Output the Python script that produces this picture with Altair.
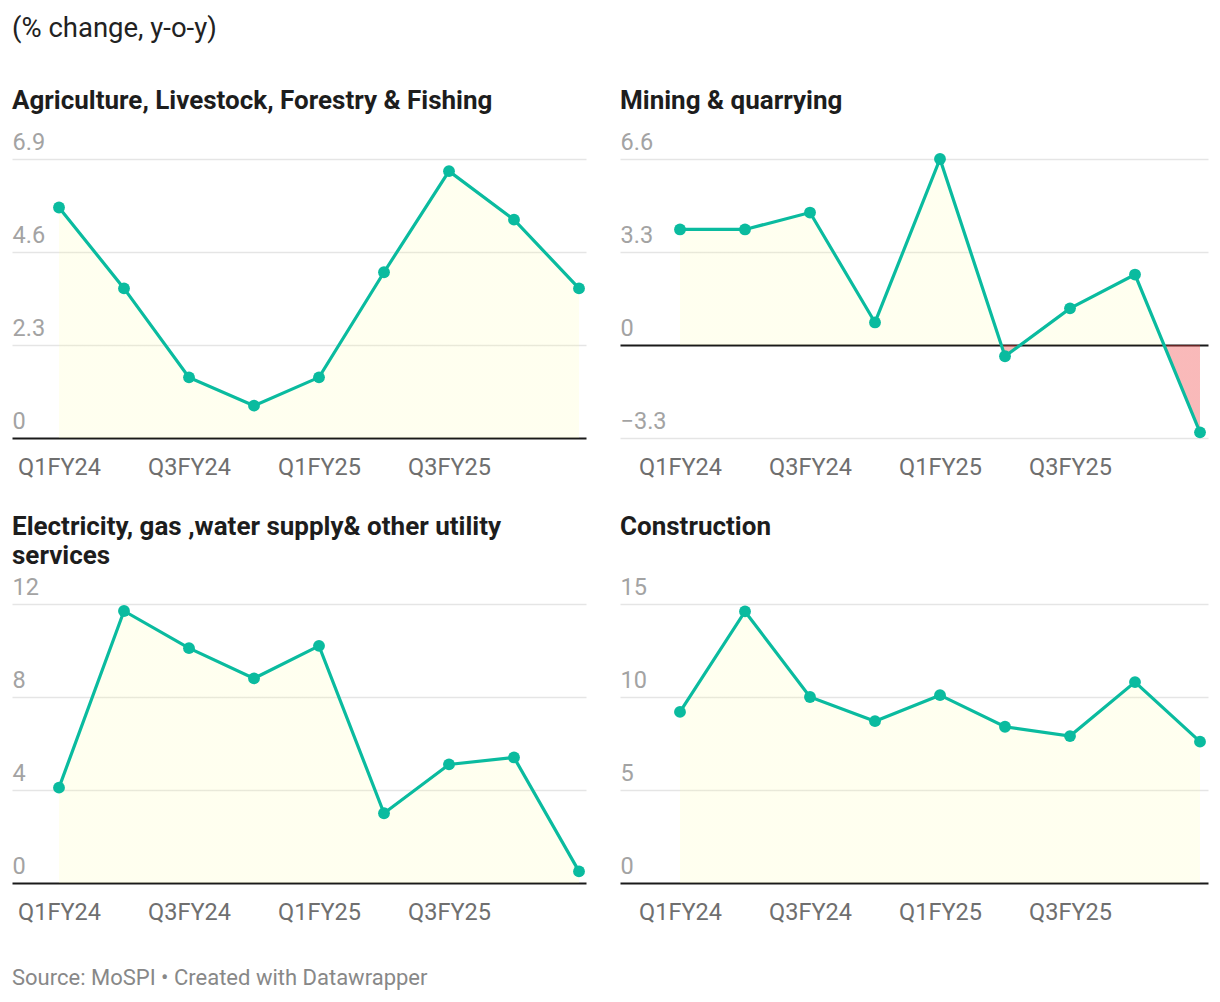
import altair as alt
import pandas as pd

quarters = ["Q1FY24", "Q2FY24", "Q3FY24", "Q4FY24", "Q1FY25",
            "Q2FY25", "Q3FY25", "Q4FY25", "Q1FY26"]
shown_quarters = [0, 2, 4, 6]

agriculture = [5.7, 3.7, 1.5, 0.8, 1.5, 4.1, 6.6, 5.4, 3.7]
mining = [4.1, 4.1, 4.7, 0.8, 6.6, -0.4, 1.3, 2.5, -3.1]
electricity = [4.1, 11.7, 10.1, 8.8, 10.2, 3.0, 5.1, 5.4, 0.5]
construction = [9.2, 14.6, 10.0, 8.7, 10.1, 8.4, 7.9, 10.8, 7.6]

agri_ticks = [0, 2.3, 4.6, 6.9]
mining_ticks = [-3.3, 0, 3.3, 6.6]
elec_ticks = [0, 4, 8, 12]
constr_ticks = [0, 5, 10, 15]

title_agri = "Agriculture, Livestock, Forestry & Fishing"
title_mining = "Mining & quarrying"
title_elec = ["Electricity, gas ,water supply& other utility", "services"]
title_constr = ["Construction", " "]

TEAL = "#0abb9f"
YELLOW = "rgba(255,255,150,0.15)"
RED = "rgba(238,56,56,0.35)"
FONT = "Roboto"

x_label_expr = "[" + ",".join("'%s'" % q for q in quarters) + "][datum.value]"
y_label_expr = "replace(toString(datum.value), '-', '\u2212')"


def panel(values, ticks, title, width, lead, trail, title_offset, height=279):
    df = pd.DataFrame({"i": list(range(len(values))), "q": quarters, "v": values})
    n = len(values) - 1
    step = (width - lead - trail) / n
    xdom = [-lead / step, n + trail / step]
    hi = max(max(values), 0)
    lo = min(min(values), 0)
    f = hi / (hi - lo)
    grad = alt.Gradient(
        gradient="linear", x1=0, x2=0, y1=0, y2=1,
        stops=[
            alt.GradientStop(offset=0, color=YELLOW),
            alt.GradientStop(offset=f, color=YELLOW),
            alt.GradientStop(offset=f, color=RED),
            alt.GradientStop(offset=1, color=RED),
        ],
    )
    x = alt.X(
        "i:Q",
        scale=alt.Scale(domain=xdom, nice=False, zero=False),
        axis=alt.Axis(
            values=shown_quarters, labelExpr=x_label_expr, grid=False, ticks=False,
            domain=False, title=None, labelPadding=17, labelFontSize=23.5,
            labelColor="#6f6f6f", labelFont=FONT, labelFlush=False, labelOverlap=False,
        ),
    )
    y = alt.Y(
        "v:Q",
        scale=alt.Scale(domain=[ticks[0], ticks[-1]], nice=False, zero=False),
        axis=alt.Axis(
            values=ticks, labelExpr=y_label_expr, grid=True,
            gridColor=alt.condition("datum.value === 0", alt.value("#1a1a1a"), alt.value("#e5e5e5")),
            gridWidth=alt.condition("datum.value === 0", alt.value(2), alt.value(1.5)),
            ticks=False, domain=False, title=None, labelAlign="left",
            labelBaseline="alphabetic", labelPadding=0, labelOffset=-10,
            labelFontSize=23.5, labelColor="#a3a3a3", labelFont=FONT,
            labelFlush=False, labelOverlap=False,
        ),
    )
    base = alt.Chart(df)
    area = base.mark_area(fill=grad, line=False).encode(x=x, y=y, y2=alt.datum(0))
    line = base.mark_line(color=TEAL, strokeWidth=3.2).encode(x=x, y=y)
    pts = base.mark_circle(color=TEAL, size=140, opacity=1).encode(x=x, y=y)
    return alt.layer(area, line, pts).properties(
        width=width, height=height,
        title=alt.TitleParams(
            text=title, anchor="start", font=FONT, fontSize=26, fontWeight="bold",
            color="#1d1d1d", offset=title_offset, lineHeight=29,
        ),
    )


p1 = panel(agriculture, agri_ticks, title_agri, 574, 47, 7, 16)
p2 = panel(mining, mining_ticks, title_mining, 588, 60, 8, 16)
p3 = panel(electricity, elec_ticks, title_elec, 574, 47, 7, 6)
p4 = panel(construction, constr_ticks, title_constr, 588, 60, 8, 6)

row1 = alt.hconcat(p1, p2, spacing=34)
row2 = alt.hconcat(p3, p4, spacing=34)

inner = alt.vconcat(row1, row2, spacing=35).properties(
    title=alt.TitleParams(
        text="Source: MoSPI \u2022 Created with Datawrapper", orient="bottom",
        anchor="start", font=FONT, fontSize=22, fontWeight="normal",
        color="#888888", offset=44,
    )
)

chart = alt.vconcat(inner).properties(
    title=alt.TitleParams(
        text="(% change, y-o-y)", anchor="start", font=FONT, fontSize=27.5,
        fontWeight="normal", color="#222222", offset=46,
    ),
    padding={"left": 4, "top": 6, "right": 4, "bottom": 5},
    background="white",
).configure(
    font=FONT,
    view=alt.ViewConfig(stroke="transparent", strokeWidth=0),
)

chart.save("out.html", embed_options={"renderer": "svg", "actions": False})
